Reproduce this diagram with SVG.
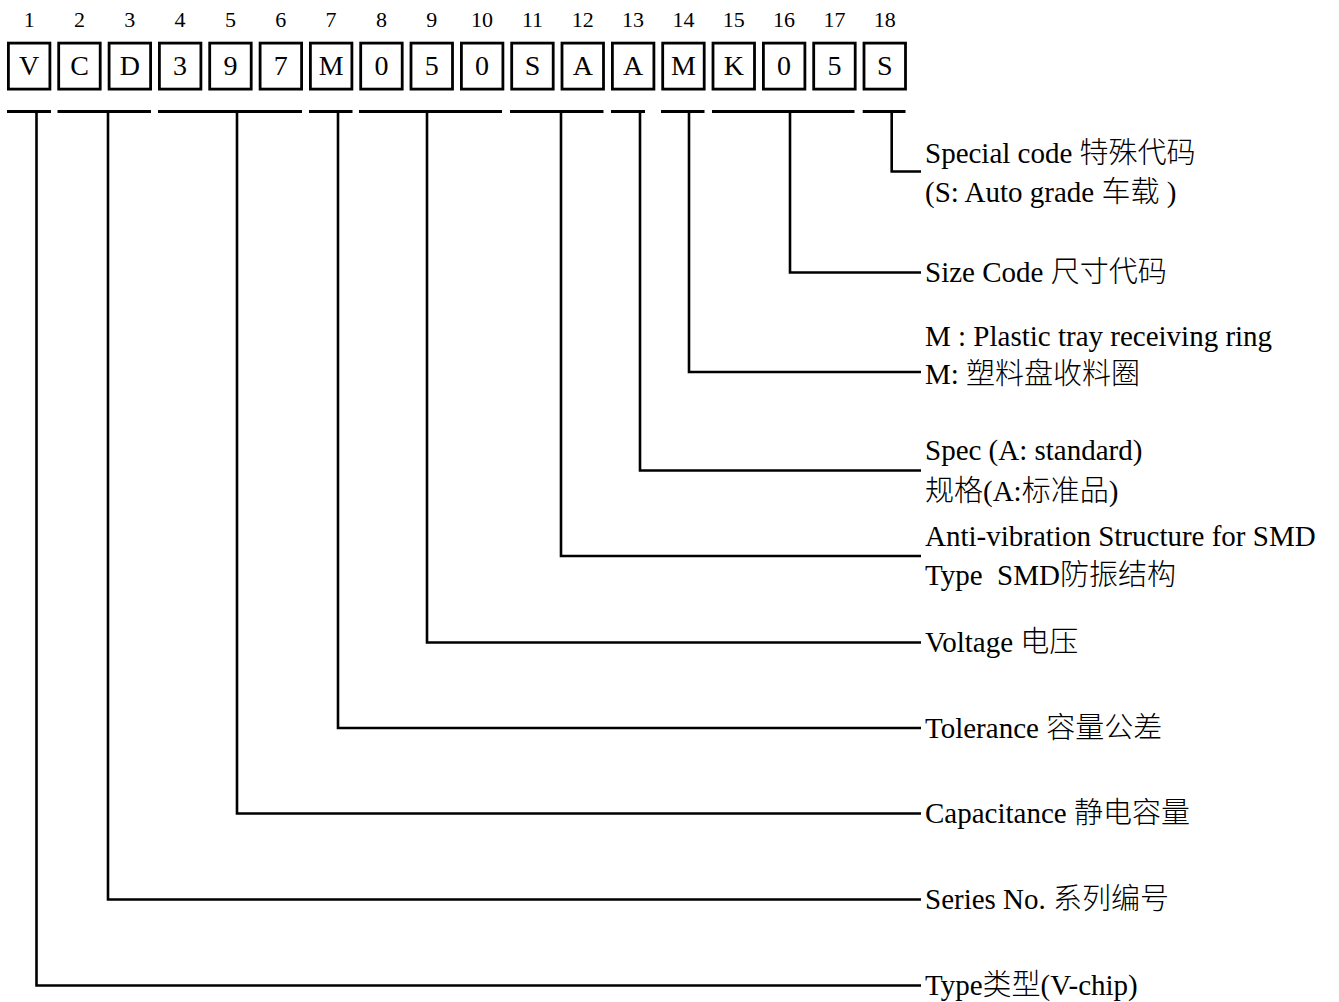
<svg xmlns="http://www.w3.org/2000/svg" width="1339" height="1002" viewBox="0 0 1339 1002">
<style>
.idx{font-family:"Liberation Serif","Noto Sans CJK SC",serif;font-size:22px;text-anchor:middle;fill:#000}
.box{fill:#fff;stroke:#000;stroke-width:2.8}
.ch{font-family:"Liberation Serif","Noto Sans CJK SC",serif;font-size:28px;text-anchor:middle;fill:#000}
.lbl{font-family:"Liberation Serif","Noto Sans CJK SC",serif;font-size:29px;font-weight:300;fill:#000;white-space:pre}
.seg{stroke:#000;stroke-width:2.8;fill:none}
.con{stroke:#000;stroke-width:2.6;fill:none}
</style>
<rect width="1339" height="1002" fill="#fff"/>
<g id="code">
<g id="c1"><text class="idx" x="29.2" y="27">1</text><rect class="box" x="8.4" y="43.1" width="41.5" height="46"/><text class="ch" x="29.2" y="75">V</text></g>
<g id="c2"><text class="idx" x="79.5" y="27">2</text><rect class="box" x="58.7" y="43.1" width="41.5" height="46"/><text class="ch" x="79.5" y="75">C</text></g>
<g id="c3"><text class="idx" x="129.8" y="27">3</text><rect class="box" x="109.1" y="43.1" width="41.5" height="46"/><text class="ch" x="129.8" y="75">D</text></g>
<g id="c4"><text class="idx" x="180.1" y="27">4</text><rect class="box" x="159.4" y="43.1" width="41.5" height="46"/><text class="ch" x="180.1" y="75">3</text></g>
<g id="c5"><text class="idx" x="230.5" y="27">5</text><rect class="box" x="209.7" y="43.1" width="41.5" height="46"/><text class="ch" x="230.5" y="75">9</text></g>
<g id="c6"><text class="idx" x="280.8" y="27">6</text><rect class="box" x="260.1" y="43.1" width="41.5" height="46"/><text class="ch" x="280.8" y="75">7</text></g>
<g id="c7"><text class="idx" x="331.1" y="27">7</text><rect class="box" x="310.4" y="43.1" width="41.5" height="46"/><text class="ch" x="331.1" y="75">M</text></g>
<g id="c8"><text class="idx" x="381.5" y="27">8</text><rect class="box" x="360.7" y="43.1" width="41.5" height="46"/><text class="ch" x="381.5" y="75">0</text></g>
<g id="c9"><text class="idx" x="431.8" y="27">9</text><rect class="box" x="411.0" y="43.1" width="41.5" height="46"/><text class="ch" x="431.8" y="75">5</text></g>
<g id="c10"><text class="idx" x="482.1" y="27">10</text><rect class="box" x="461.4" y="43.1" width="41.5" height="46"/><text class="ch" x="482.1" y="75">0</text></g>
<g id="c11"><text class="idx" x="532.5" y="27">11</text><rect class="box" x="511.7" y="43.1" width="41.5" height="46"/><text class="ch" x="532.5" y="75">S</text></g>
<g id="c12"><text class="idx" x="582.8" y="27">12</text><rect class="box" x="562.0" y="43.1" width="41.5" height="46"/><text class="ch" x="582.8" y="75">A</text></g>
<g id="c13"><text class="idx" x="633.1" y="27">13</text><rect class="box" x="612.4" y="43.1" width="41.5" height="46"/><text class="ch" x="633.1" y="75">A</text></g>
<g id="c14"><text class="idx" x="683.4" y="27">14</text><rect class="box" x="662.7" y="43.1" width="41.5" height="46"/><text class="ch" x="683.4" y="75">M</text></g>
<g id="c15"><text class="idx" x="733.8" y="27">15</text><rect class="box" x="713.0" y="43.1" width="41.5" height="46"/><text class="ch" x="733.8" y="75">K</text></g>
<g id="c16"><text class="idx" x="784.1" y="27">16</text><rect class="box" x="763.4" y="43.1" width="41.5" height="46"/><text class="ch" x="784.1" y="75">0</text></g>
<g id="c17"><text class="idx" x="834.4" y="27">17</text><rect class="box" x="813.7" y="43.1" width="41.5" height="46"/><text class="ch" x="834.4" y="75">5</text></g>
<g id="c18"><text class="idx" x="884.8" y="27">18</text><rect class="box" x="864.0" y="43.1" width="41.5" height="46"/><text class="ch" x="884.8" y="75">S</text></g>
</g>
<g id="connectors">
<path class="seg" d="M7 111.5H51M57.5 111.5H151M158 111.5H302M309 111.5H352.5M359 111.5H502M510 111.5H603.5M611 111.5H645M661 111.5H704.5M712 111.5H854.5M862.7 111.5H905.5"/>
<path class="con" d="M891.7 111.5V171.5H921"/>
<path class="con" d="M790 111.5V272.5H921"/>
<path class="con" d="M689 111.5V372H921"/>
<path class="con" d="M640 111.5V470.5H921"/>
<path class="con" d="M561 111.5V556H921"/>
<path class="con" d="M427 111.5V642.5H921"/>
<path class="con" d="M338 111.5V728H921"/>
<path class="con" d="M237 111.5V813.5H921"/>
<path class="con" d="M108 111.5V899.5H921"/>
<path class="con" d="M36.5 111.5V985.5H921"/>
</g>
<g id="l-special"><text class="lbl" x="925" y="163">Special code 特殊代码</text><text class="lbl" x="925" y="201.5">(S: Auto grade 车载 )</text></g>
<g id="l-size"><text class="lbl" x="925" y="282">Size Code 尺寸代码</text></g>
<g id="l-pack"><text class="lbl" x="925" y="346">M : Plastic tray receiving ring</text><text class="lbl" x="925" y="384">M: 塑料盘收料圈</text></g>
<g id="l-spec"><text class="lbl" x="925" y="460">Spec (A: standard)</text><text class="lbl" x="925" y="501">规格(A:标准品)</text></g>
<g id="l-anti"><text class="lbl" x="925" y="546">Anti-vibration Structure for SMD</text><text class="lbl" x="925" y="584.5">Type  SMD防振结构</text></g>
<g id="l-voltage"><text class="lbl" x="925" y="652">Voltage 电压</text></g>
<g id="l-tol"><text class="lbl" x="925" y="737.5">Tolerance 容量公差</text></g>
<g id="l-cap"><text class="lbl" x="925" y="823">Capacitance 静电容量</text></g>
<g id="l-series"><text class="lbl" x="925" y="909">Series No. 系列编号</text></g>
<g id="l-type"><text class="lbl" x="925" y="995">Type类型(V-chip)</text></g>
</svg>
